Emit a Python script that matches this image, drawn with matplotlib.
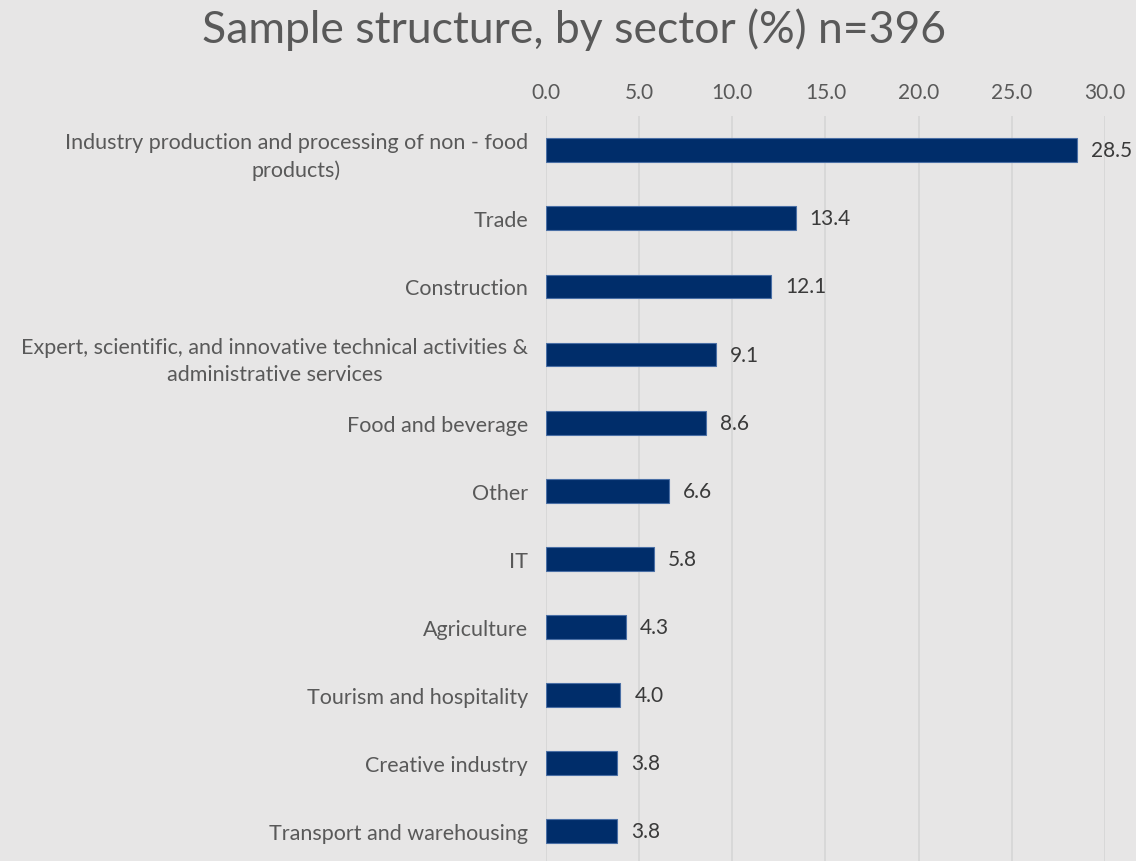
import matplotlib.pyplot as plt

# Sector shares of the sample, in percent
sectors = [
    "Industry production and processing of non - food\nproducts)",
    "Trade",
    "Construction",
    "Expert, scientific, and innovative technical activities &\nadministrative services",
    "Food and beverage",
    "Other",
    "IT",
    "Agriculture",
    "Tourism and hospitality",
    "Creative industry",
    "Transport and warehousing",
]
shares = [28.5, 13.4, 12.1, 9.1, 8.6, 6.6, 5.8, 4.3, 4.0, 3.8, 3.8]
ticks = [0, 5, 10, 15, 20, 25, 30]

bg = "#e7e6e6"
bar_color = "#002d6a"
text_color = "#595959"

plt.rcParams["font.family"] = ["Lato", "DejaVu Sans"]

fig = plt.figure(figsize=(11.36, 8.62), dpi=100, facecolor=bg)
ax = fig.add_axes([0.4806, -0.005, 0.4921, 0.869], facecolor=bg)

ypos = range(len(sectors))
ax.barh(ypos, shares, height=0.35, color=bar_color,
        edgecolor="#4a6fa5", linewidth=0.8, zorder=3)
for y, v in zip(ypos, shares):
    ax.text(v + 0.75, y, f"{v:.1f}", va="center", ha="left",
            fontsize=15, color="#3a3a3a")

ax.set_ylim(len(sectors) - 0.5, -0.5)
ax.set_xlim(0, 30)
ax.set_yticks(list(ypos))
ax.set_yticklabels(sectors, fontsize=15.5, color=text_color,
                   multialignment="center", linespacing=1.45)
ax.set_xticks(ticks)
ax.set_xticklabels([f"{t:.1f}" for t in ticks], fontsize=15, color=text_color)
ax.xaxis.tick_top()
ax.tick_params(axis="both", length=0)
ax.tick_params(axis="x", pad=10)
ax.tick_params(axis="y", pad=13)
ax.grid(axis="x", color="#d6d6d6", linewidth=1.2, zorder=0)
for s in ax.spines.values():
    s.set_visible(False)

fig.text(0.505, 0.966, "Sample structure, by sector (%) n=396",
         ha="center", va="center", fontsize=32, color=text_color)

fig.savefig("out.png", dpi=100, facecolor=bg)
